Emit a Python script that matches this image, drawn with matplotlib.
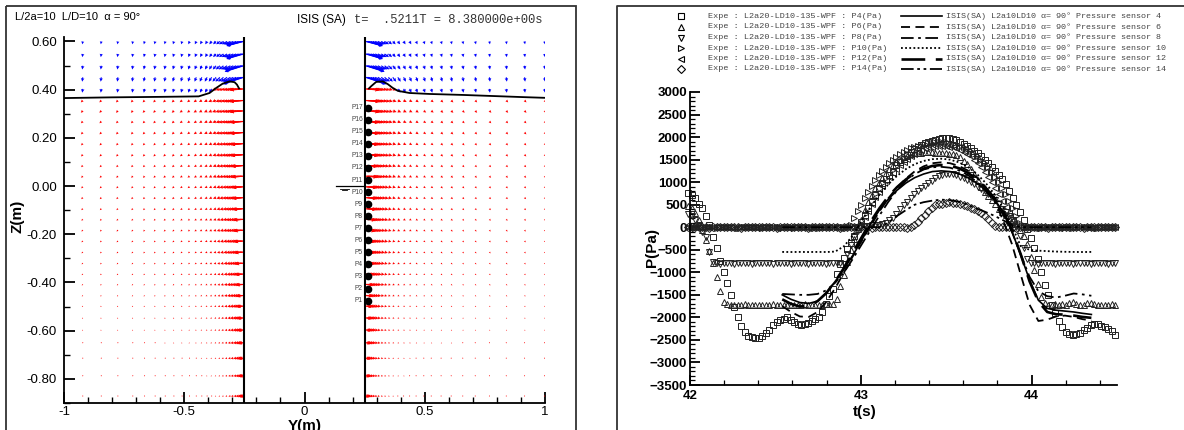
import numpy as np
import matplotlib.pyplot as plt
from matplotlib.patches import Rectangle
from matplotlib.ticker import MultipleLocator

plt.rcParams['font.family'] = ['Liberation Sans', 'DejaVu Sans']
MONO = ['Liberation Mono', 'DejaVu Sans Mono']

# ---------------- left panel : velocity field between the two walls ----------------
blue_rows = [0.600, 0.548, 0.499, 0.451, 0.403]
red_rows = [0.355, 0.312, 0.268, 0.222, 0.176, 0.130, 0.085, 0.041, -0.003, -0.048,
            -0.094, -0.138, -0.183, -0.228, -0.274, -0.320, -0.365, -0.408, -0.454, -0.498,
            -0.547, -0.597, -0.650, -0.714, -0.787, -0.871]
blue_row_fu = [1.0, 1.0, 1.1, 1.2, 1.1]
blue_row_fv = [1.0, 1.1, 1.3, 1.5, 1.3]
red_row_f = [1.0, 1.0, 0.95, 0.95, 0.9, 0.9, 0.85, 0.85, 0.8, 0.8,
             0.75, 0.72, 0.7, 0.67, 0.64, 0.6, 0.57, 0.54, 0.5, 0.47,
             0.44, 0.41, 0.38, 0.35, 0.32, 0.3]

# columns, listed from far field towards the wall
cols_left = [-0.922, -0.845, -0.776, -0.714, -0.665, -0.621, -0.579, -0.543, -0.509, -0.478,
             -0.450, -0.427, -0.405, -0.386, -0.368, -0.352, -0.337, -0.322, -0.308, -0.296,
             -0.284, -0.274, -0.265, -0.261, -0.257, -0.253]
cols_right = [0.998, 0.915, 0.839, 0.769, 0.710, 0.658, 0.610, 0.568, 0.527, 0.496,
              0.464, 0.437, 0.412, 0.388, 0.367, 0.349, 0.333, 0.319, 0.305, 0.294,
              0.284, 0.275, 0.266, 0.262, 0.258, 0.254]
mag_red_u = [0.008, 0.008, 0.008, 0.008, 0.008, 0.008, 0.009, 0.009, 0.010, 0.010,
             0.011, 0.012, 0.013, 0.014, 0.016, 0.018, 0.021, 0.024, 0.028, 0.032,
             0.036, 0.041, 0.046, 0.049, 0.052, 0.055]
mag_red_v = [0.008, 0.008, 0.008, 0.008, 0.008, 0.008, 0.008, 0.008, 0.007, 0.007,
             0.007, 0.006, 0.006, 0.006, 0.005, 0.005, 0.005, 0.004, 0.004, 0.004,
             0.003, 0.003, 0.003, 0.003, 0.004, 0.005]
mag_blue_u = [0.002, 0.002, 0.002, 0.002, 0.003, 0.003, 0.003, 0.004, 0.004, 0.005,
              0.006, 0.007, 0.008, 0.010, 0.012, 0.015, 0.018, 0.022, 0.027, 0.033,
              0.040, 0.048, 0.056, 0.062, 0.067, 0.072]
mag_blue_v = [0.012, 0.012, 0.012, 0.012, 0.012, 0.012, 0.012, 0.012, 0.012, 0.012,
              0.012, 0.012, 0.012, 0.012, 0.012, 0.012, 0.012, 0.012, 0.012, 0.013,
              0.014, 0.015, 0.016, 0.017, 0.018, 0.019]

# free surface
surf_left_y = [-1.0, -0.8, -0.6, -0.44, -0.395, -0.367, -0.34, -0.312, -0.291, -0.281, -0.272]
surf_left_z = [0.365, 0.368, 0.370, 0.372, 0.386, 0.407, 0.425, 0.434, 0.431, 0.421, 0.405]
surf_right_y = [0.268, 0.277, 0.298, 0.326, 0.346, 0.367, 0.388, 0.437, 0.52, 0.658, 0.797, 0.908, 1.0]
surf_right_z = [0.405, 0.414, 0.432, 0.434, 0.423, 0.407, 0.395, 0.386, 0.382, 0.378, 0.373, 0.369, 0.366]

probe_z = [-0.475, -0.425, -0.375, -0.325, -0.275, -0.225, -0.175, -0.125, -0.075, -0.025,
           0.025, 0.075, 0.125, 0.175, 0.225, 0.275, 0.325]
probe_names = ['P1', 'P2', 'P3', 'P4', 'P5', 'P6', 'P7', 'P8', 'P9', 'P10',
               'P11', 'P12', 'P13', 'P14', 'P15', 'P16', 'P17']

# ---------------- right panel : pressure time series ----------------
exp_t = np.linspace(41.99, 44.49, 122)
p4 = [760, 720, 640, 520, 420, 250, 60, -220, -470, -760,
      -1000, -1240, -1500, -1760, -1990, -2190, -2320, -2410, -2445, -2452,
      -2450, -2420, -2348, -2270, -2180, -2100, -2065, -2030, -1995, -2050,
      -2110, -2150, -2160, -2140, -2115, -2080, -2040, -1990, -1880, -1700,
      -1530, -1380, -1040, -820, -690, -480, -360, -200, 10, 120,
      270, 420, 570, 720, 860, 980, 1060, 1150, 1230, 1370,
      1440, 1520, 1600, 1670, 1730, 1770, 1820, 1860, 1890, 1920,
      1945, 1960, 1970, 1975, 1970, 1950, 1925, 1890, 1850, 1800,
      1750, 1700, 1640, 1570, 1490, 1415, 1330, 1250, 1160, 1080,
      960, 800, 650, 490, 340, 170, -30, -230, -460, -700,
      -990, -1280, -1500, -1720, -1900, -2080, -2210, -2320, -2365, -2380,
      -2378, -2340, -2290, -2230, -2170, -2145, -2150, -2185, -2220, -2260,
      -2300, -2400]
p6 = [480, 430, 320, 160, -60, -280, -520, -790, -1100, -1420,
      -1650, -1710, -1720, -1715, -1725, -1720, -1710, -1720, -1730, -1720,
      -1715, -1720, -1725, -1720, -1710, -1720, -1720, -1730, -1720, -1715,
      -1720, -1725, -1720, -1710, -1720, -1730, -1720, -1715, -1720, -1710,
      -1700, -1700, -1600, -1300, -1050, -780, -500, -250, -30, 150,
      380, 560, 720, 860, 990, 1100, 1200, 1290, 1370, 1440,
      1500, 1550, 1590, 1620, 1640, 1650, 1655, 1660, 1660, 1660,
      1655, 1650, 1645, 1640, 1630, 1615, 1600, 1550, 1480, 1400,
      1300, 1180, 1040, 900, 780, 690, 600, 510, 415, 340,
      270, 200, 150, 80, -60, -200, -378, -659, -955, -1252,
      -1548, -1681, -1720, -1715, -1700, -1720, -1710, -1725, -1690, -1660,
      -1700, -1720, -1715, -1690, -1670, -1700, -1720, -1725, -1715, -1720,
      -1710, -1720]
p8 = [300, 250, 150, 50, -100, -220, -550, -780, -800, -805,
      -800, -795, -800, -805, -800, -800, -795, -800, -805, -800,
      -800, -795, -800, -800, -805, -800, -800, -795, -800, -805,
      -800, -800, -795, -800, -805, -800, -800, -795, -800, -805,
      -800, -800, -795, -800, -805, -600, -400, -220, -80, 0,
      20, 30, 40, 40, 60, 80, 100, 150, 200, 300,
      400, 490, 570, 650, 730, 800, 860, 920, 980, 1030,
      1090, 1130, 1160, 1175, 1178, 1170, 1150, 1125, 1090, 1050,
      1000, 950, 900, 840, 800, 740, 670, 600, 510, 415,
      330, 240, 150, 0, -200, -450, -700, -800, -800, -805,
      -800, -795, -800, -800, -805, -800, -800, -795, -800, -805,
      -800, -800, -795, -800, -805, -800, -800, -795, -800, -805,
      -800, -800]
p10 = [0, 15, -10, 5, 10, -5, 0, 10, -10, 5,
       0, -5, 10, 0, -10, 5, 0, 10, -5, 0,
       5, -10, 0, 10, -5, 0, 5, -5, 10, 0,
       -10, 5, 0, 10, -5, 0, 5, -10, 0, 10,
       -5, 0, 5, -5, 10, 0, 60, 200, 350, 500,
       650, 790, 920, 1040, 1150, 1250, 1340, 1420, 1490, 1560,
       1620, 1670, 1710, 1750, 1780, 1810, 1830, 1850, 1865, 1875,
       1880, 1885, 1885, 1880, 1870, 1855, 1835, 1810, 1775, 1735,
       1690, 1635, 1570, 1500, 1420, 1330, 1230, 1120, 1000, 870,
       730, 580, 420, 260, 100, 0, 10, -5, 0, 5,
       -10, 0, 10, -5, 0, 5, -5, 10, 0, -10,
       5, 0, 10, -5, 0, 5, -10, 0, 10, -5,
       0, 5]
p12 = [10, -5, 0, 10, -10, 0, 5, -5, 0, 10,
       -5, 0, 5, -10, 0, 10, -5, 0, 5, -5,
       0, 10, -5, 0, 5, -10, 0, 10, -5, 0,
       5, -5, 0, 10, -10, 0, 5, -5, 0, 10,
       -5, 0, 5, -10, 0, 10, -5, 0, 5, 80,
       220, 370, 520, 660, 790, 910, 1020, 1120, 1210, 1300,
       1380, 1450, 1520, 1580, 1630, 1680, 1720, 1750, 1775, 1790,
       1800, 1805, 1805, 1800, 1790, 1775, 1750, 1720, 1680, 1630,
       1570, 1500, 1420, 1330, 1230, 1120, 1000, 870, 730, 590,
       450, 310, 170, 40, 0, -5, 10, 0, -10, 5,
       0, 10, -5, 0, 5, -10, 0, 10, -5, 0,
       5, -5, 0, 10, -10, 0, 5, -5, 0, 10,
       -5, 0]
p14 = [-5, 0, 10, -5, 0, 5, -10, 0, 10, -5,
       0, 5, -5, 10, 0, -10, 5, 0, -5, 10,
       0, -5, 5, 0, 10, -10, 0, 5, -5, 0,
       10, -5, 0, 5, -10, 0, 10, -5, 0, 5,
       -5, 10, 0, -10, 5, 0, -5, 10, 0, -5,
       5, 0, -10, 10, 0, -5, 5, 0, 10, -5,
       0, 5, -10, 0, 40, 110, 200, 280, 350, 430,
       490, 515, 526, 530, 555, 545, 530, 511, 490, 460,
       430, 395, 360, 320, 260, 190, 100, 20, 0, 5,
       -5, 0, 10, -10, 0, 5, -5, 10, 0, -5,
       5, 0, -10, 10, 0, -5, 5, 0, 10, -5,
       0, 5, -10, 0, 10, -5, 0, 5, -5, 10,
       0, -5]

isis_t = np.linspace(42.54, 44.35, 36)
s4 = [-1500, -1600, -1670, -1690, -1640, -1450, -1200, -920, -620, -290,
      80, 380, 620, 820, 980, 1100, 1180, 1235, 1250, 1235,
      1185, 1100, 980, 830, 620, 350, -90, -620, -1170, -1620,
      -1800, -1840, -1860, -1880, -1910, -1935]
s6 = [-1750, -1880, -1980, -1990, -1880, -1650, -1350, -1000, -640, -300,
      30, 350, 640, 880, 1080, 1240, 1350, 1420, 1440, 1420,
      1360, 1260, 1110, 900, 620, 150, -370, -1050, -1720, -2080,
      -2050, -1980, -1960, -1990, -2040, -2070]
s8 = [-1480, -1490, -1500, -1500, -1480, -1400, -1230, -1000, -700, -380,
      -60, 260, 560, 820, 1030, 1180, 1280, 1330, 1340, 1320,
      1260, 1160, 1010, 820, 580, 280, -100, -600, -1100, -1420,
      -1530, -1560, -1520, -1470, -1490, -1520]
s10 = [-548, -550, -548, -550, -548, -550, -540, -420, -180, 150,
       450, 720, 950, 1140, 1290, 1400, 1470, 1510, 1520, 1500,
       1440, 1340, 1190, 990, 740, 430, 30, -420, -500, -520,
       -530, -540, -545, -548, -550, -548]
s12 = [-1600, -1700, -1760, -1740, -1640, -1460, -1200, -900, -560, -220,
       120, 420, 680, 890, 1060, 1200, 1300, 1360, 1380, 1365,
       1310, 1210, 1070, 880, 650, 360, -60, -600, -1200, -1650,
       -1880, -1930, -1940, -1960, -1990, -2010]
s14 = [0, 0, 0, 0, 0, 0, 0, 0, 0, 0,
       0, 0, 100, 250, 380, 500, 555, 590, 612, 600,
       565, 500, 415, 340, 255, 156, 50, 0, 0, 0,
       0, 0, 0, 0, 0, 0]

exp_series = [p4, p6, p8, p10, p12, p14]
exp_labels = ['Expe : L2a20-LD10-135-WPF : P4(Pa)', 'Expe : L2a20-LD10-135-WPF : P6(Pa)',
              'Expe : L2a20-LD10-135-WPF : P8(Pa)', 'Expe : L2a20-LD10-135-WPF : P10(Pa)',
              'Expe : L2a20-LD10-135-WPF : P12(Pa)', 'Expe : L2a20-LD10-135-WPF : P14(Pa)']
isis_series = [s4, s6, s8, s10, s12, s14]
isis_labels = ['ISIS(SA) L2a10LD10 α= 90° Pressure sensor 4',
               'ISIS(SA) L2a10LD10 α= 90° Pressure sensor 6',
               'ISIS(SA) L2a10LD10 α= 90° Pressure sensor 8',
               'ISIS(SA) L2a10LD10 α= 90° Pressure sensor 10',
               'ISIS(SA) L2a10LD10 α= 90° Pressure sensor 12',
               'ISIS(SA) L2a10LD10 α= 90° Pressure sensor 14']

markers = ['s', '^', 'v', '>', '<', 'D']
marker_sizes = [4.2, 4.2, 4.2, 4.2, 4.2, 3.6]
line_styles = [dict(linestyle='-', linewidth=1.2),
               dict(linestyle='--', dashes=(5, 3), linewidth=1.3),
               dict(linestyle='-.', dashes=(7, 2.5, 1.5, 2.5), linewidth=1.3),
               dict(linestyle=':', dashes=(1, 1.3), linewidth=1.3),
               dict(linestyle='--', dashes=(9, 4), linewidth=1.9),
               dict(linestyle='-.', dashes=(7, 2, 1.5, 2, 1.5, 2), linewidth=1.3)]


def build_field(cols, side, surf_y, surf_z):
    """Vector positions/components for one side of the structure, split by phase."""
    rows = blue_rows + red_rows
    nb = len(blue_rows)
    out = {'blue': ([], [], [], []), 'red': ([], [], [], [])}
    order = np.argsort(surf_y)
    sy = np.asarray(surf_y)[order]
    sz = np.asarray(surf_z)[order]
    for i, z in enumerate(rows):
        for j, y in enumerate(cols):
            zs = np.interp(y, sy, sz)
            if z > zs:
                k = min(i, nb - 1)
                u = mag_blue_u[j] * blue_row_fu[k]
                v = mag_blue_v[j] * blue_row_fv[k]
                key = 'blue'
            else:
                k = max(i - nb, 0)
                u = mag_red_u[j] * red_row_f[k]
                v = mag_red_v[j] * red_row_f[k]
                key = 'red'
            xs, ys, us, vs = out[key]
            xs.append(y)
            ys.append(z)
            us.append(side * u)
            vs.append(-v)
    return out


fig = plt.figure(figsize=(11.84, 4.30), dpi=100)
W, H = 1184.0, 430.0

# ---- left axes ----
ax1 = fig.add_axes([64 / W, 1 - 403 / H, 481 / W, 366.4 / H])
for cols, side, sy, sz in [(cols_left, -1, surf_left_y, surf_left_z),
                           (cols_right, 1, surf_right_y, surf_right_z)]:
    fld = build_field(cols, side, sy, sz)
    for key, col in [('blue', '#0000ff'), ('red', '#ff0000')]:
        xs, ys, us, vs = fld[key]
        ax1.quiver(xs, ys, us, vs, color=col, angles='xy', scale_units='xy', scale=1,
                   units='dots', width=1.1, headwidth=3.2, headlength=3.2,
                   headaxislength=2.8, zorder=2)
    ax1.plot(sy, sz, color='black', lw=1.3, zorder=3)

ax1.axvline(-0.25, color='black', lw=1.5, zorder=4)
ax1.axvline(0.25, color='black', lw=1.5, zorder=4)
ax1.plot([0.262] * len(probe_z), probe_z, 'o', color='black', ms=4.5, zorder=5)
for name, z in zip(probe_names, probe_z):
    ax1.text(0.243, z, name, ha='right', va='center', fontsize=4.8, color='#444444')
# still water level symbol
ax1.plot([0.13, 0.25], [0, 0], color='black', lw=0.9)
ax1.plot([0.146, 0.187], [-0.011, -0.011], color='black', lw=0.6)
ax1.plot([0.154, 0.176], [-0.017, -0.017], color='black', lw=0.6)

ax1.set_xlim(-1, 1)
ax1.set_ylim(-0.9, 0.62)
ax1.spines['top'].set_visible(False)
ax1.spines['right'].set_visible(False)
for s in ['left', 'bottom']:
    ax1.spines[s].set_linewidth(1.3)
ax1.set_xticks([-1, -0.5, 0, 0.5, 1])
ax1.set_xticklabels(['-1', '-0.5', '0', '0.5', '1'])
ax1.set_yticks([-0.8, -0.6, -0.4, -0.2, 0.0, 0.2, 0.4, 0.6])
ax1.set_yticklabels(['-0.80', '-0.60', '-0.40', '-0.20', '0.00', '0.20', '0.40', '0.60'])
ax1.xaxis.set_minor_locator(MultipleLocator(0.1))
ax1.yaxis.set_minor_locator(MultipleLocator(0.1))
ax1.tick_params(which='major', direction='in', length=8, width=1.3, labelsize=9.5)
ax1.tick_params(which='minor', direction='in', length=4, width=1.0)
ax1.tick_params(axis='y', which='major', pad=5)
ax1.tick_params(axis='x', which='major', pad=2)
ax1.set_ylabel('Z(m)', fontsize=11, fontweight='bold')
ax1.yaxis.set_label_coords(-0.083, 0.51)
ax1.set_xlabel('Y(m)', fontsize=11, fontweight='bold')
ax1.xaxis.set_label_coords(0.5, -0.043)

# ---- right axes ----
ax2 = fig.add_axes([690 / W, 1 - 385 / H, 427 / W, 293 / H])
for vals, mk, ms in zip(exp_series, markers, marker_sizes):
    ax2.plot(exp_t, vals, linestyle='none', marker=mk, ms=ms, mfc='none', mec='#222222',
             mew=0.7, clip_on=False, zorder=2)
for vals, st in zip(isis_series, line_styles):
    ax2.plot(isis_t, vals, color='black', zorder=3, **st)

ax2.set_xlim(42, 44.5)
ax2.set_ylim(-3500, 3000)
ax2.spines['top'].set_visible(False)
ax2.spines['right'].set_visible(False)
for s in ['left', 'bottom']:
    ax2.spines[s].set_linewidth(1.3)
ax2.set_xticks([42, 43, 44])
ax2.set_yticks(np.arange(-3500, 3001, 500))
ax2.xaxis.set_minor_locator(MultipleLocator(0.2))
ax2.yaxis.set_minor_locator(MultipleLocator(100))
ax2.tick_params(which='major', direction='in', length=7, width=1.3, labelsize=9.5)
ax2.tick_params(which='minor', direction='in', length=3.5, width=0.9)
ax2.tick_params(axis='y', which='major', pad=2)
ax2.tick_params(axis='x', which='major', pad=3.5)
for lab in ax2.get_xticklabels() + ax2.get_yticklabels():
    lab.set_fontweight('bold')
ax2.set_ylabel('P(Pa)', fontsize=11, fontweight='bold')
ax2.yaxis.set_label_coords(-0.073, 0.47)
ax2.set_xlabel('t(s)', fontsize=11, fontweight='bold')
ax2.xaxis.set_label_coords(0.41, -0.068)

# ---- overlay: frames, header, legend ----
ov = fig.add_axes([0, 0, 1, 1])
ov.set_xlim(0, W)
ov.set_ylim(H, 0)
ov.axis('off')
ov.add_patch(Rectangle((5.5, 5.5), 570.5, 440, fill=False, lw=1.3, ec='#333333'))
ov.plot([617, 617, 1190], [440, 5.5, 5.5], color='#333333', lw=1.3)

ov.text(15, 17, 'L/2a=10  L/D=10  α = 90°', fontsize=8, va='center')
ov.text(297, 20, 'ISIS (SA)', fontsize=8.5, va='center')
ov.text(354, 20, 't=  .5211T = 8.380000e+00s', fontsize=8.7, va='center',
        family=MONO, color='#333333')

leg_rows = [16, 27, 37.5, 48, 58.5, 69]
for y, mk, ms, lab in zip(leg_rows, markers, marker_sizes, exp_labels):
    ov.plot([681], [y], linestyle='none', marker=mk, ms=ms, mfc='none', mec='black', mew=0.8)
    ov.text(708.5, y, lab, fontsize=6.1, va='center', family=MONO, color='#444444')
for y, st, lab in zip(leg_rows, line_styles, isis_labels):
    ov.plot([901, 942], [y, y], color='black', **st)
    ov.text(946, y, lab, fontsize=6.0, va='center', family=MONO, color='#444444')

fig.savefig('out.png', dpi=100)
